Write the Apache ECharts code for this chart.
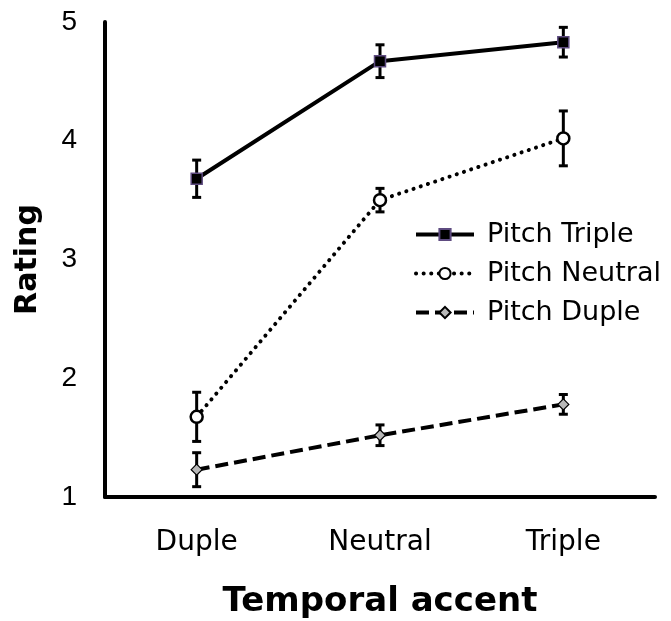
<!DOCTYPE html>
<html>
<head>
<meta charset="utf-8">
<script src="https://cdn.jsdelivr.net/npm/echarts@6/dist/echarts.min.js"></script>
<style>
  html, body { margin: 0; padding: 0; background: #fff; }
  #chart { width: 671px; height: 621px; }
</style>
</head>
<body>
<div id="chart"></div>
<script>
  const categories = ['Duple', 'Neutral', 'Triple'];
  const yTicks = [1, 2, 3, 4, 5];

  const pitchTriple = [3.68, 4.67, 4.83];
  const pitchTripleErr = [0.157, 0.138, 0.125];
  const pitchNeutral = [1.675, 3.50, 4.02];
  const pitchNeutralErr = [0.207, 0.099, 0.231];
  const pitchDuple = [1.23, 1.52, 1.78];
  const pitchDupleErr = [0.143, 0.087, 0.083];

  const font = 'DejaVu Sans';

  function errorData(values, errs) {
    return values.map((v, i) => [i, v - errs[i], v + errs[i]]);
  }

  function renderErrorBar(params, api) {
    const x = api.value(0);
    const lo = api.coord([x, api.value(1)]);
    const hi = api.coord([x, api.value(2)]);
    const half = 4.5;
    const style = {stroke: '#000', lineWidth: 3};
    return {
      type: 'group',
      children: [
        {type: 'line', shape: {x1: lo[0], y1: lo[1], x2: hi[0], y2: hi[1]}, style: style},
        {type: 'line', shape: {x1: lo[0] - half, y1: lo[1], x2: lo[0] + half, y2: lo[1]}, style: style},
        {type: 'line', shape: {x1: hi[0] - half, y1: hi[1], x2: hi[0] + half, y2: hi[1]}, style: style}
      ]
    };
  }

  function errorSeries(values, errs) {
    return {
      type: 'custom',
      renderItem: renderErrorBar,
      data: errorData(values, errs),
      silent: true,
      z: 1
    };
  }

  const chart = echarts.init(document.getElementById('chart'));

  const option = {
    animation: false,
    backgroundColor: '#fff',
    grid: {left: 105, right: 16, top: 22, bottom: 124, outerBoundsMode: 'none', containLabel: false},
    legend: {
      orient: 'vertical',
      left: 409,
      top: 216,
      itemWidth: 58,
      itemHeight: 14,
      itemGap: 12,
      textStyle: {fontFamily: font, fontSize: 27, color: '#000', padding: [0, 0, 0, 8]},
      data: [
        {name: 'Pitch Triple', lineStyle: {width: 4}},
        {name: 'Pitch Neutral', lineStyle: {width: 4}},
        {name: 'Pitch Duple', lineStyle: {width: 4}}
      ]
    },
    xAxis: {
      type: 'category',
      data: categories,
      boundaryGap: true,
      axisLine: {lineStyle: {color: '#000', width: 4}},
      axisTick: {show: false},
      axisLabel: {fontFamily: font, fontSize: 28, color: '#000', margin: 32},
      name: 'Temporal accent',
      nameLocation: 'center',
      nameGap: 88,
      nameMoveOverlap: false,
      nameTextStyle: {fontFamily: font, fontSize: 34, fontWeight: 'bold', color: '#000'}
    },
    yAxis: {
      type: 'value',
      min: yTicks[0],
      max: yTicks[yTicks.length - 1],
      interval: 1,
      splitLine: {show: false},
      axisLine: {show: true, lineStyle: {color: '#000', width: 4}},
      axisTick: {show: false},
      axisLabel: {fontFamily: 'Liberation Sans', fontSize: 28, color: '#000', margin: 28},
      name: 'Rating',
      nameLocation: 'center',
      nameGap: 62,
      nameMoveOverlap: false,
      nameTextStyle: {fontFamily: font, fontSize: 30, fontWeight: 'bold', color: '#000'}
    },
    series: [
      errorSeries(pitchTriple, pitchTripleErr),
      errorSeries(pitchNeutral, pitchNeutralErr),
      errorSeries(pitchDuple, pitchDupleErr),
      {
        name: 'Pitch Triple',
        type: 'line',
        data: pitchTriple,
        z: 3,
        symbol: 'rect',
        symbolSize: 11,
        itemStyle: {color: '#000', borderColor: '#5e4b80', borderWidth: 1.5},
        lineStyle: {color: '#000', width: 4}
      },
      {
        name: 'Pitch Neutral',
        type: 'line',
        data: pitchNeutral,
        z: 3,
        symbol: 'circle',
        symbolSize: 12,
        itemStyle: {color: '#fff', borderColor: '#000', borderWidth: 2.5},
        lineStyle: {color: '#000', width: 4, type: [0.1, 7.5], cap: 'round'}
      },
      {
        name: 'Pitch Duple',
        type: 'line',
        data: pitchDuple,
        z: 3,
        symbol: 'diamond',
        symbolSize: 11,
        itemStyle: {color: '#b8b8b8', borderColor: '#000', borderWidth: 1.2},
        lineStyle: {color: '#000', width: 4, type: [13, 6]}
      }
    ]
  };

  chart.setOption(option);
</script>
</body>
</html>
